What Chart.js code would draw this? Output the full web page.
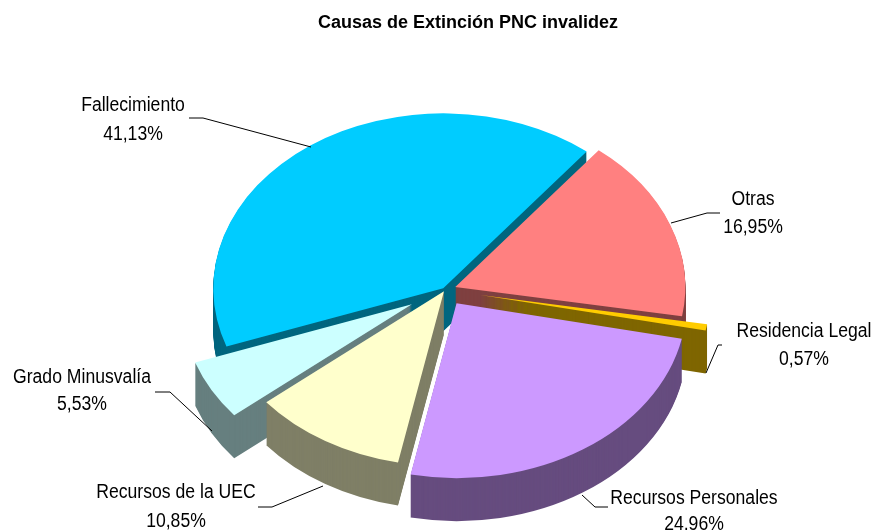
<!DOCTYPE html>
<html>
<head>
<meta charset="utf-8">
<title>Causas de Extinción PNC invalidez</title>
<script src="https://cdn.jsdelivr.net/npm/chart.js@4/dist/chart.umd.min.js"></script>
<style>
  html, body { margin: 0; padding: 0; background: #fff; overflow: hidden; }
  #wrap { width: 872px; height: 530px; }
</style>
</head>
<body>
<div id="wrap"><canvas id="grafico" width="872" height="530"></canvas></div>
<script>
// --- Datos ---
const categorias = ['Fallecimiento', 'Otras', 'Residencia Legal', 'Recursos Personales', 'Recursos de la UEC', 'Grado Minusvalía'];
const porcentajes = [41.13, 16.95, 0.57, 24.96, 10.85, 5.53];
const colores = ['#00CCFF', '#FF8080', '#FFCC00', '#CC99FF', '#FFFFCC', '#CCFFFF'];
const separacion = [3, 11, 36, 21, 2, 38];

// --- Vista 3D ---
const CENTRO_X = 445, CENTRO_Y = 290;
const APLASTE = 0.76;
const FONDO = 43;
const ORDEN = [0, 1, 2, 5, 4, 3]; // de atras hacia delante
const ESTRECHAR_TEXTO = 0.88;

// posicion de etiquetas y lineas guia (colocadas a mano como en el original)
const etiquetas = [
  { x: 133, y: 105, y2: 134, guia: [[189, 118], [203, 118], [311, 147]] },
  { x: 753, y: 199, y2: 227, guia: [[671, 223], [707, 213], [720, 213]] },
  { x: 804, y: 331, y2: 359, guia: [[706, 373], [718, 345], [722, 345]] },
  { x: 694, y: 498, y2: 524, guia: [[582, 495], [595, 507], [608, 507]] },
  { x: 176, y: 492, y2: 521, guia: [[258, 507], [272, 507], [323, 486]] },
  { x: 82, y: 377, y2: 404, guia: [[155, 392], [170, 392], [212, 431]] }
];

function mitadColor(hex) {
  const n = parseInt(hex.slice(1), 16);
  return `rgb(${(n >> 16) >> 1},${((n >> 8) & 255) >> 1},${(n & 255) >> 1})`;
}

function colocar(ctx, arc, sep, dy) {
  const medio = (arc.startAngle + arc.endAngle) / 2;
  ctx.translate(CENTRO_X + Math.cos(medio) * sep, CENTRO_Y + Math.sin(medio) * sep * APLASTE + dy);
  ctx.scale(1, APLASTE);
  ctx.translate(-arc.x, -arc.y);
}

function textoEstrecho(ctx, texto, x, y) {
  ctx.save();
  ctx.translate(x, y);
  ctx.scale(ESTRECHAR_TEXTO, 1);
  ctx.fillText(texto, 0, 0);
  ctx.restore();
}

// Dibuja las porciones aplastadas y con pared lateral
const tarta3D = {
  id: 'tarta3D',
  beforeDatasetDraw(chart, args) {
    const ctx = chart.ctx;
    const arcos = args.meta.data;
    ORDEN.forEach(i => {
      const arc = arcos[i];
      const opts = arc.options;
      arc.options = { ...opts, backgroundColor: mitadColor(colores[i]) };
      for (let d = FONDO; d > 0; d--) {
        ctx.save();
        colocar(ctx, arc, separacion[i], d);
        arc.draw(ctx);
        ctx.restore();
      }
      arc.options = opts;
      ctx.save();
      colocar(ctx, arc, separacion[i], 0);
      arc.draw(ctx);
      ctx.restore();
    });
    return false;
  },
  afterDraw(chart) {
    const ctx = chart.ctx;
    ctx.save();
    ctx.strokeStyle = '#000';
    ctx.lineWidth = 1;
    ctx.fillStyle = '#000';
    ctx.font = '20px "Liberation Sans"';
    ctx.textAlign = 'center';
    ctx.textBaseline = 'middle';
    etiquetas.forEach((e, i) => {
      textoEstrecho(ctx, categorias[i], e.x, e.y);
      textoEstrecho(ctx, porcentajes[i].toFixed(2).replace('.', ',') + '%', e.x, e.y2);
      ctx.beginPath();
      e.guia.forEach((p, k) => k ? ctx.lineTo(p[0], p[1]) : ctx.moveTo(p[0], p[1]));
      ctx.stroke();
    });
    ctx.restore();
  }
};

new Chart(document.getElementById('grafico'), {
  type: 'pie',
  data: {
    labels: categorias,
    datasets: [{ data: porcentajes, backgroundColor: colores, borderWidth: 0 }]
  },
  options: {
    responsive: false,
    animation: false,
    rotation: 250.5,
    radius: 230,
    layout: { padding: { left: 64 } },
    plugins: {
      legend: { display: false },
      tooltip: { enabled: false },
      title: {
        display: true,
        text: 'Causas de Extinción PNC invalidez',
        fullSize: false,
        color: '#000',
        font: { family: '"Liberation Sans"', size: 18, weight: 'bold' },
        padding: { top: 12, bottom: 10 }
      }
    }
  },
  plugins: [tarta3D]
});
</script>
</body>
</html>
